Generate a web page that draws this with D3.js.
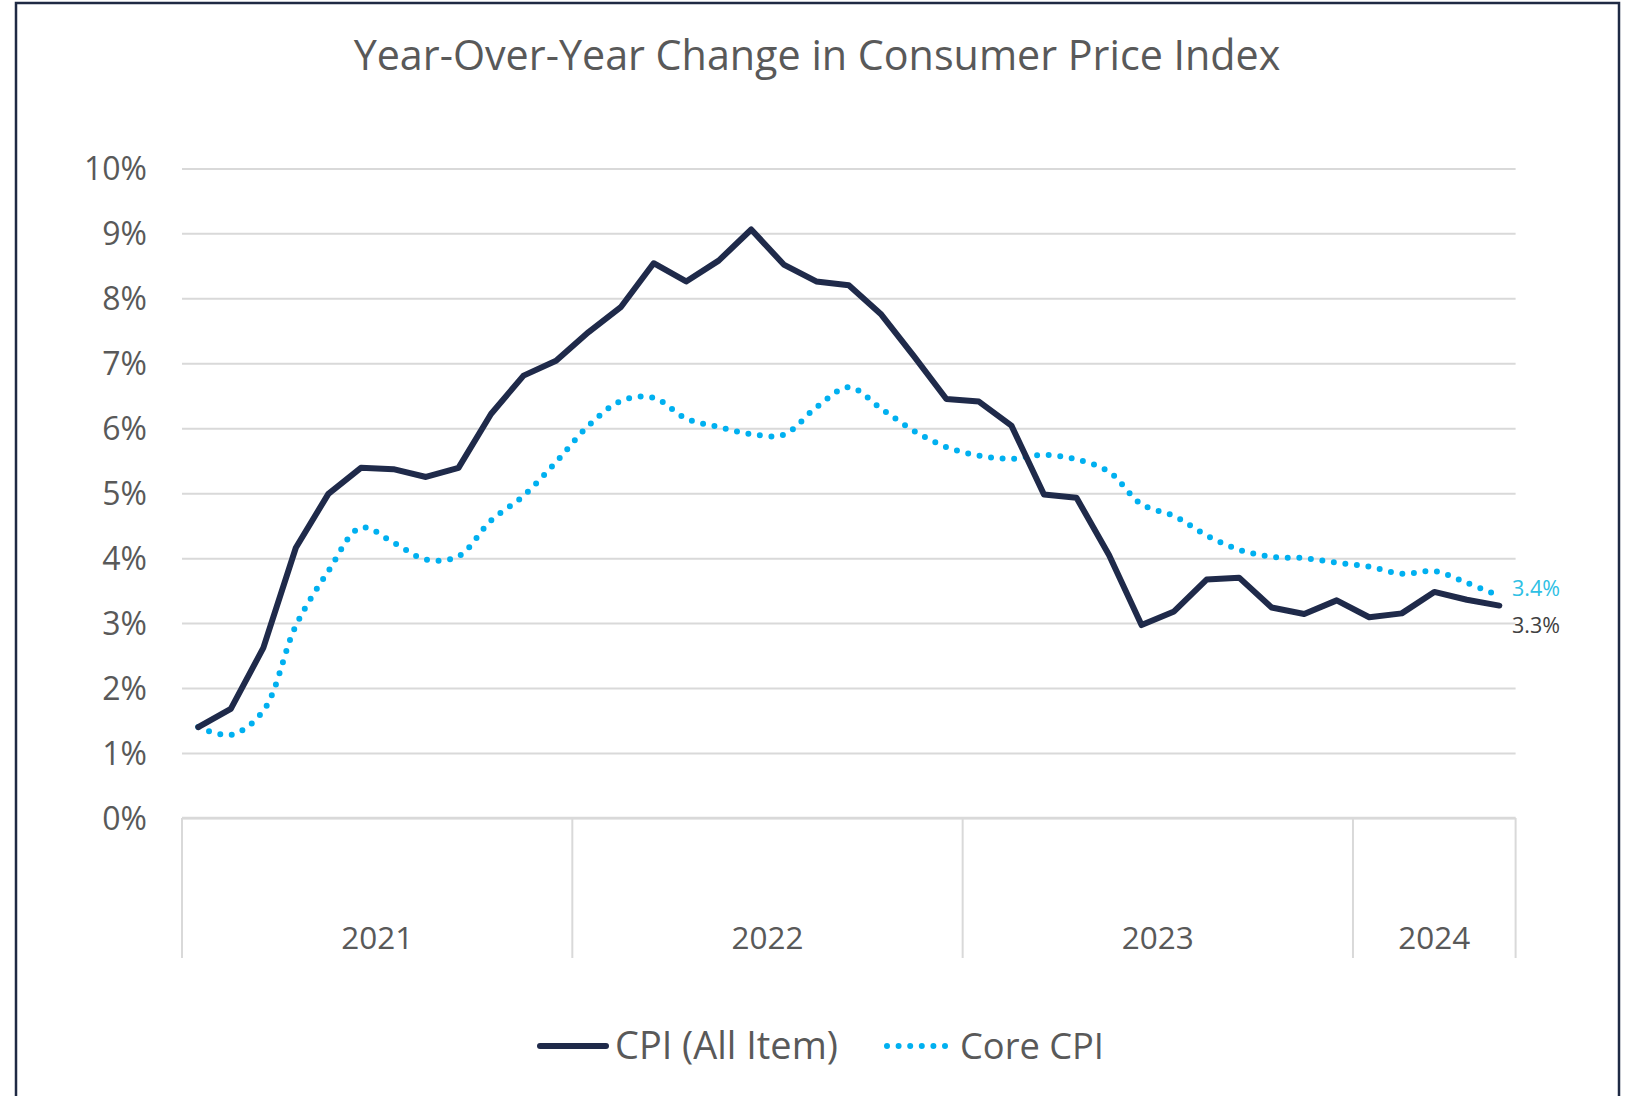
<!DOCTYPE html>
<html><head><meta charset="utf-8">
<script src="https://cdn.jsdelivr.net/npm/d3@7"></script>
<style>
html,body{margin:0;padding:0;background:#fff;}
svg{display:block;}
text{font-family:"Open Sans",Lato,sans-serif;}
</style></head>
<body>
<svg id="c" width="1630" height="1096"></svg>
<script>
// ---- data ----
const months = [
 "2021-01","2021-02","2021-03","2021-04","2021-05","2021-06","2021-07","2021-08","2021-09","2021-10","2021-11","2021-12",
 "2022-01","2022-02","2022-03","2022-04","2022-05","2022-06","2022-07","2022-08","2022-09","2022-10","2022-11","2022-12",
 "2023-01","2023-02","2023-03","2023-04","2023-05","2023-06","2023-07","2023-08","2023-09","2023-10","2023-11","2023-12",
 "2024-01","2024-02","2024-03","2024-04","2024-05"];
const cpiAll = [1.40,1.68,2.62,4.16,4.99,5.39,5.37,5.25,5.39,6.22,6.81,7.04,
 7.48,7.87,8.54,8.26,8.58,9.06,8.52,8.26,8.20,7.75,7.11,6.45,
 6.41,6.04,4.98,4.93,4.05,2.97,3.18,3.67,3.70,3.24,3.14,3.35,
 3.09,3.15,3.48,3.36,3.27];
const coreCpi = [1.40,1.28,1.65,2.96,3.80,4.47,4.24,3.98,4.03,4.58,4.96,5.48,
 6.04,6.42,6.47,6.15,6.02,5.91,5.90,6.32,6.63,6.30,5.96,5.71,
 5.58,5.53,5.59,5.52,5.33,4.83,4.65,4.35,4.13,4.02,4.00,3.93,
 3.87,3.76,3.80,3.62,3.42];
const years = ["2021","2022","2023","2024"];
const yTicks = [0,1,2,3,4,5,6,7,8,9,10];
const title = "Year-Over-Year Change in Consumer Price Index";
const seriesNames = ["CPI (All Item)","Core CPI"];

// ---- layout ----
const svg = d3.select("#c");
const L = 182, R = 1515.6, T = 168.4, B = 818, catBottom = 958;
const navy = "#1F2A4A", cyan = "#00B0F0", grid = "#D9D9D9", txt = "#595959";

const x = d3.scaleBand().domain(months).range([L, R]);
const xc = m => x(m) + x.bandwidth()/2;
const y = d3.scaleLinear().domain([0,10]).range([B, T]);

function fit(sel, target){
  sel.attr("font-size", 100);
  const w = sel.node().getComputedTextLength();
  sel.attr("font-size", 100*target/w);
}

// border
svg.append("rect").attr("x",16).attr("y",3).attr("width",1603).attr("height",1110)
  .attr("fill","none").attr("stroke","#1F2A44").attr("stroke-width",2.5);

// title
const tt = svg.append("text").attr("x",817).attr("y",70).attr("text-anchor","middle")
  .attr("fill",txt).text(title);
fit(tt, 927);

// gridlines
const yAxis = d3.axisLeft(y).tickValues(yTicks).tickSize(-(R-L)).tickFormat(d => d + "%");
const gY = svg.append("g").attr("transform",`translate(${L},0)`).call(yAxis);
gY.select(".domain").remove();
gY.selectAll(".tick line").attr("stroke",grid).attr("stroke-width",2);
gY.selectAll(".tick text").attr("fill",txt).attr("x",-35).attr("dy","0.35em");
const tenW = (() => { const t = gY.selectAll(".tick text").filter(d=>d===10); t.attr("font-size",100); return t.node().getComputedTextLength(); })();
gY.selectAll(".tick text").attr("font-size", 100*63/tenW);

// category axis: year groups
const yearStart = yr => months.findIndex(m => m.startsWith(yr));
const yearEnd = yr => months.length - 1 - [...months].reverse().findIndex(m => m.startsWith(yr));
const bounds = years.map(yr => x(months[yearStart(yr)]));
bounds.push(R);
svg.append("g").selectAll("line").data(bounds).join("line")
  .attr("x1",d=>d).attr("x2",d=>d).attr("y1",B).attr("y2",catBottom)
  .attr("stroke",grid).attr("stroke-width",2);
svg.append("line").attr("x1",L).attr("x2",R).attr("y1",B).attr("y2",B).attr("stroke",grid).attr("stroke-width",2.5);
const yl = svg.append("g").selectAll("text").data(years).join("text")
  .attr("x", yr => (x(months[yearStart(yr)]) + x(months[yearEnd(yr)]) + x.bandwidth())/2)
  .attr("y", 949).attr("text-anchor","middle").attr("fill",txt).text(d=>d);
{ const n = yl.filter((d,i)=>i===0); n.attr("font-size",100); const w = n.node().getComputedTextLength(); yl.attr("font-size",100*72/w); }

// lines
const lineStraight = d3.line().x((d,i)=>xc(months[i])).y(d=>y(d));
const lineSmooth = d3.line().x((d,i)=>xc(months[i])).y(d=>y(d)).curve(d3.curveCatmullRom.alpha(0.5));
svg.append("path").attr("d", lineSmooth(coreCpi)).attr("fill","none").attr("stroke",cyan)
  .attr("stroke-width",6).attr("stroke-linecap","round").attr("stroke-dasharray","0 11.6");
svg.append("path").attr("d", lineStraight(cpiAll)).attr("fill","none").attr("stroke",navy)
  .attr("stroke-width",6).attr("stroke-linejoin","round").attr("stroke-linecap","round");

// end labels
const last = months.length - 1;
const l1 = svg.append("text").attr("x",1512).attr("y",y(coreCpi[last]) - 7).attr("fill","#2EC0E4")
  .attr("dy","0.35em").text(coreCpi[last].toFixed(1) + "%");
fit(l1, 48);
const l2 = svg.append("text").attr("x",1512).attr("y",y(cpiAll[last]) + 20).attr("fill","#404040")
  .attr("dy","0.35em").text(cpiAll[last].toFixed(1) + "%");
fit(l2, 48);

// legend
const lg = svg.append("g");
lg.append("line").attr("x1",540).attr("x2",606).attr("y1",1046).attr("y2",1046)
  .attr("stroke",navy).attr("stroke-width",6).attr("stroke-linecap","round");
const t1 = lg.append("text").attr("x",615).attr("y",1046).attr("dy","0.35em").attr("fill",txt).text(seriesNames[0]);
fit(t1, 223);
lg.append("line").attr("x1",887).attr("x2",947).attr("y1",1046).attr("y2",1046)
  .attr("stroke",cyan).attr("stroke-width",6).attr("stroke-linecap","round").attr("stroke-dasharray","0 11.6");
const t2 = lg.append("text").attr("x",960).attr("y",1046).attr("dy","0.35em").attr("fill",txt).text(seriesNames[1]);
fit(t2, 144);
</script>
</body></html>
